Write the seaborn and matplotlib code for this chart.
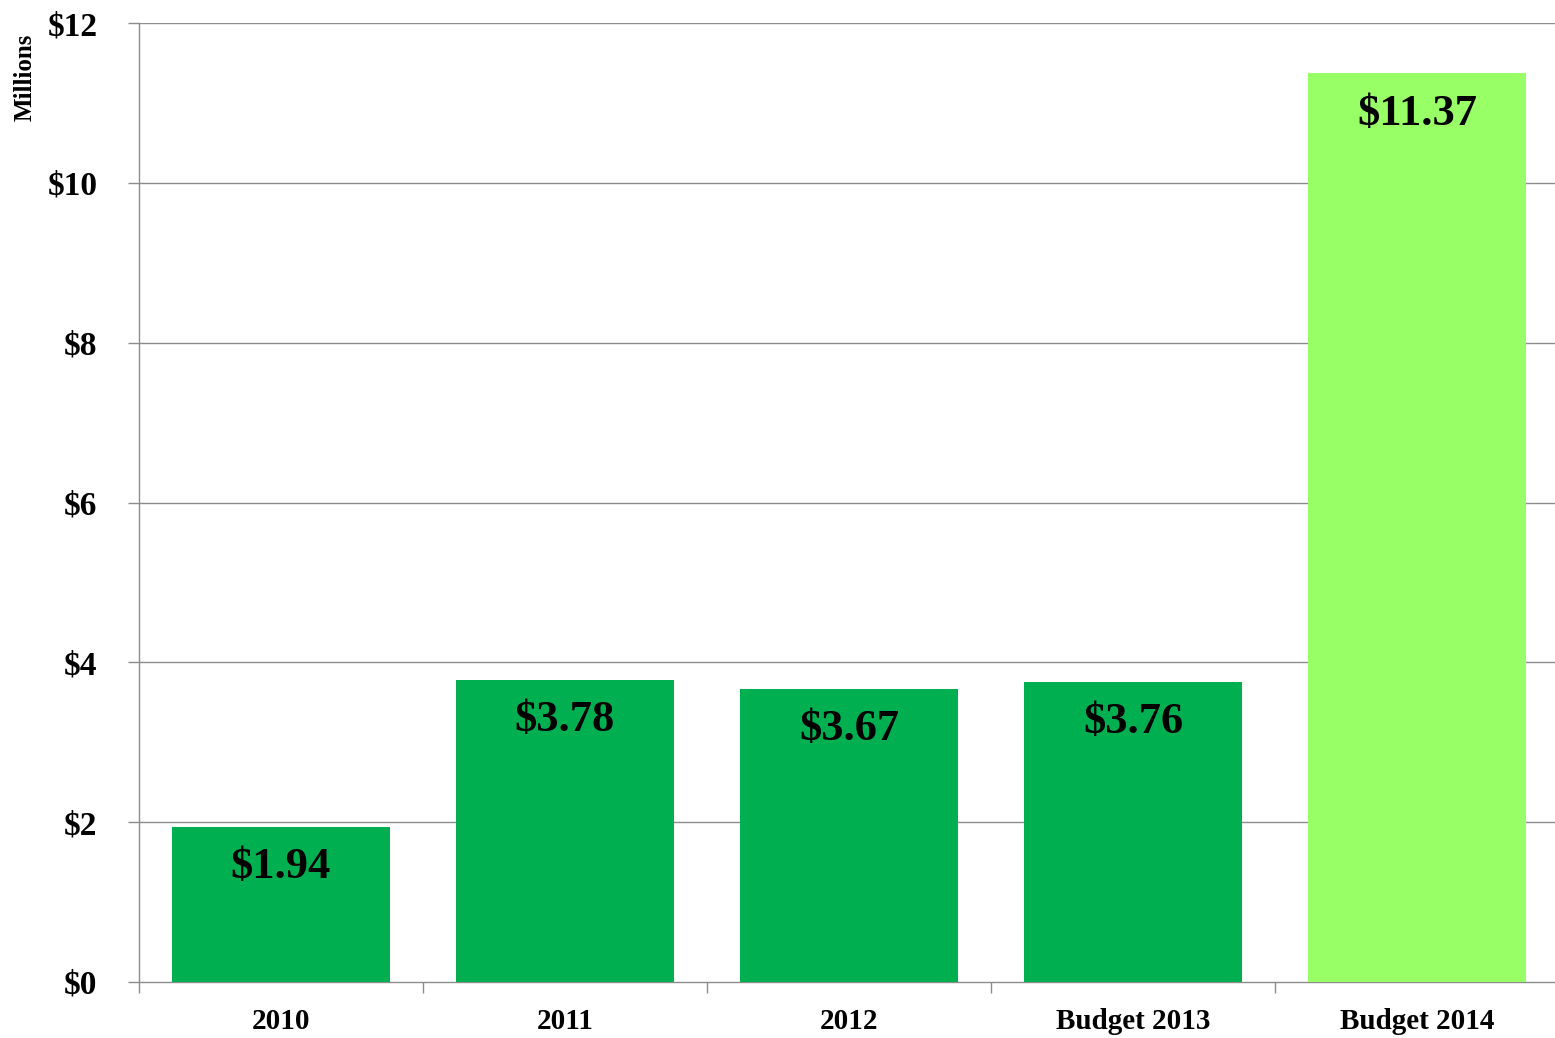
import matplotlib
matplotlib.use("Agg")
import matplotlib.pyplot as plt
import seaborn as sns
import numpy as np

categories = ["2010", "2011", "2012", "Budget 2013", "Budget 2014"]
values = [1.94, 3.78, 3.67, 3.76, 11.37]
labels = ["$1.94", "$3.78", "$3.67", "$3.76", "$11.37"]
bar_colors = ["#00B050", "#00B050", "#00B050", "#00B050", "#99FF66"]
yticks = [0, 2, 4, 6, 8, 10, 12]
ytick_labels = ["$0", "$2", "$4", "$6", "$8", "$10", "$12"]

sns.set_style("white")
plt.rcParams["font.family"] = ["Liberation Serif", "DejaVu Serif"]
plt.rcParams["font.weight"] = "bold"
plt.rcParams["text.color"] = "black"
plt.rcParams["xtick.color"] = "black"
plt.rcParams["ytick.color"] = "black"

fig = plt.figure(figsize=(15.55, 10.38), dpi=100)
ax = fig.add_axes([139/1555, 56/1038, 1420/1555, (982-23)/1038])

sns.barplot(x=categories, y=values, hue=categories, palette=bar_colors,
            width=0.77, legend=False, ax=ax, saturation=1, zorder=3, linewidth=0)

grid_c = "#8c8c8c"
ax.set_ylim(0, 12)
ax.set_xlim(-0.5, 4.5)
ax.set_yticks(yticks)
ax.set_yticklabels(ytick_labels, fontsize=24, fontweight="bold", color="black")
for y in yticks[1:]:
    ax.axhline(y, color=grid_c, lw=1.0, zorder=1)

ax.set_xticks(range(len(categories)))
ax.set_xticklabels(categories, fontsize=21, fontweight="bold", color="black")
ax.set_xticks(np.arange(-0.5, 5.0, 1.0), minor=True)
ax.tick_params(axis="x", which="major", length=0, pad=19, bottom=True)
ax.tick_params(axis="x", which="minor", length=8, color=grid_c, width=1,
               direction="out", bottom=True)
ax.tick_params(axis="y", length=8, color=grid_c, width=1, direction="out",
               pad=22, left=True, labelcolor="black")

for s in ["top", "right"]:
    ax.spines[s].set_visible(False)
for s in ["left", "bottom"]:
    ax.spines[s].set_color(grid_c)
    ax.spines[s].set_linewidth(1.0)

for i, (v, lab) in enumerate(zip(values, labels)):
    ax.annotate(lab, (i, v), xytext=(0, -29), textcoords="offset points",
                ha="center", va="center", fontsize=32, fontweight="bold",
                color="black", zorder=4)

ax.set_ylabel("")
ax.set_xlabel("")
fig.text(25/1555, 1 - 77/1038, "Millions", rotation=90, ha="center", va="center",
         fontsize=18, fontweight="bold", color="black")

fig.savefig("out.png", dpi=100)
